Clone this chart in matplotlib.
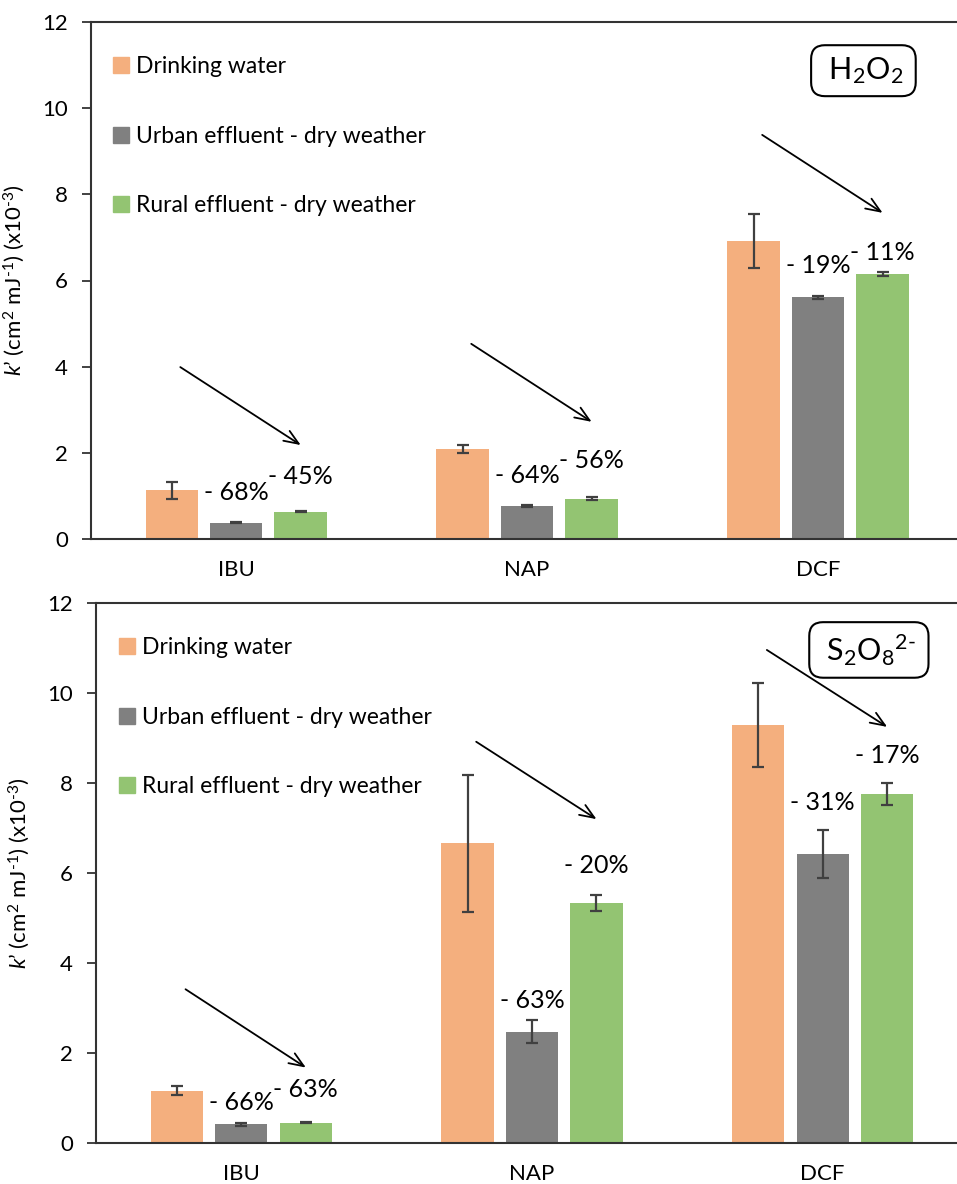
import matplotlib
matplotlib.use('Agg')
import matplotlib.pyplot as plt
from matplotlib.patches import Patch

plt.rcParams['font.family'] = ['Lato', 'DejaVu Sans']
plt.rcParams['mathtext.fontset'] = 'custom'
plt.rcParams['mathtext.rm'] = 'Lato'
plt.rcParams['mathtext.it'] = 'Lato:italic'
plt.rcParams['mathtext.default'] = 'regular'

# data
categories = ['IBU', 'NAP', 'DCF']
series = ['Drinking water', 'Urban effluent - dry weather', 'Rural effluent - dry weather']
colors = ['#F4AF7E', '#808080', '#93C472']

# H2O2 panel
h2o2_dw = [1.13, 2.09, 6.92]
h2o2_dw_err = [0.19, 0.10, 0.63]
h2o2_urban = [0.38, 0.77, 5.61]
h2o2_urban_err = [0.02, 0.02, 0.03]
h2o2_rural = [0.63, 0.94, 6.15]
h2o2_rural_err = [0.01, 0.03, 0.05]
h2o2_urban_pct = ['- 68%', '- 64%', '- 19%']
h2o2_rural_pct = ['- 45%', '- 56%', '- 11%']
h2o2_urban_pct_y = [1.07, 1.47, 6.34]
h2o2_rural_pct_y = [1.44, 1.83, 6.65]
h2o2_arrow_start = [3.99, 4.53, 9.38]
h2o2_arrow_end = [2.18, 2.72, 7.57]

# S2O8 panel
s2o8_dw = [1.15, 6.65, 9.29]
s2o8_dw_err = [0.10, 1.53, 0.93]
s2o8_urban = [0.41, 2.47, 6.41]
s2o8_urban_err = [0.03, 0.26, 0.53]
s2o8_rural = [0.44, 5.33, 7.75]
s2o8_rural_err = [0.01, 0.18, 0.25]
s2o8_urban_pct = ['- 66%', '- 63%', '- 31%']
s2o8_rural_pct = ['- 63%', '- 20%', '- 17%']
s2o8_urban_pct_y = [0.89, 3.17, 7.57]
s2o8_rural_pct_y = [1.19, 6.16, 8.60]
s2o8_arrow_start = [3.41, 8.91, 10.95]
s2o8_arrow_end = [1.67, 7.19, 9.24]

W, H = 957, 1184
fig = plt.figure(figsize=(W / 100, H / 100), dpi=100)

step = 0.2216
width = 0.18


def draw_panel(ax, vals, errs, upct, rpct, upy, rpy, astart, aend, oxidant, box_xy, leg_y):
    x = list(range(len(categories)))
    for j in range(3):
        xs = [i + (j - 1) * step for i in x]
        ax.bar(xs, vals[j], width=width, color=colors[j], yerr=errs[j],
               error_kw=dict(ecolor='#404040', elinewidth=1.6, capsize=4.5, capthick=1.6),
               zorder=2)
    for i in x:
        ax.text(i, upy[i], upct[i], ha='center', va='center', fontsize=18)
        ax.text(i + step, rpy[i], rpct[i], ha='center', va='center', fontsize=18)
        ax.annotate('', xy=(i + 0.222, aend[i]), xytext=(i - 0.192, astart[i]),
                    arrowprops=dict(arrowstyle='->,head_length=0.75,head_width=0.3',
                                    lw=1.3, color='black', mutation_scale=14,
                                    shrinkA=0, shrinkB=0))
    ax.text(box_xy[0], box_xy[1], oxidant, ha='center', va='center', fontsize=22,
            bbox=dict(boxstyle='round,pad=0.33,rounding_size=0.45', fc='white',
                      ec='black', lw=1.5))

    ax.set_xlim(-0.5, 2.5)
    ax.set_ylim(0, 12)
    ax.set_yticks(range(0, 13, 2))
    ax.set_xticks(x)
    ax.set_xticklabels(categories)
    ax.tick_params(axis='x', length=0, pad=15, labelsize=16)
    ax.tick_params(axis='y', length=6.5, width=1.3, direction='out', pad=10,
                   labelsize=16, color='#333333')
    for s in ['left', 'top', 'bottom']:
        ax.spines[s].set_color('#333333')
        ax.spines[s].set_linewidth(1.5)
    ax.spines['right'].set_visible(False)
    ax.set_ylabel("$\\mathit{k}$\u2019 (cm$^2$ mJ$^{\\text{-}1}$) (x10$^{\\text{-}3}$)",
                  fontsize=16, labelpad=11)

    handles = [Patch(color=c) for c in colors]
    ax.legend(handles, series, loc='upper left', bbox_to_anchor=(0.026, leg_y),
              frameon=False, fontsize=16.5, handlelength=0.7, handleheight=0.7,
              handletextpad=0.3, labelspacing=2.12, borderpad=0, borderaxespad=0)


ax1 = fig.add_axes([90.7 / W, 1 - 539 / H, 872.8 / W, 517 / H])
draw_panel(ax1, [h2o2_dw, h2o2_urban, h2o2_rural],
           [h2o2_dw_err, h2o2_urban_err, h2o2_rural_err],
           h2o2_urban_pct, h2o2_rural_pct, h2o2_urban_pct_y, h2o2_rural_pct_y,
           h2o2_arrow_start, h2o2_arrow_end, ' H$_2$O$_2$ ', (2.156, 10.87), 0.934)

ax2 = fig.add_axes([96 / W, 1 - 1142.7 / H, 872 / W, 540 / H])
draw_panel(ax2, [s2o8_dw, s2o8_urban, s2o8_rural],
           [s2o8_dw_err, s2o8_urban_err, s2o8_rural_err],
           s2o8_urban_pct, s2o8_rural_pct, s2o8_urban_pct_y, s2o8_rural_pct_y,
           s2o8_arrow_start, s2o8_arrow_end, ' S$_2$O$_8$$^{2\\text{-}}$ ', (2.159, 10.95), 0.936)

fig.savefig('out.png', dpi=100)
